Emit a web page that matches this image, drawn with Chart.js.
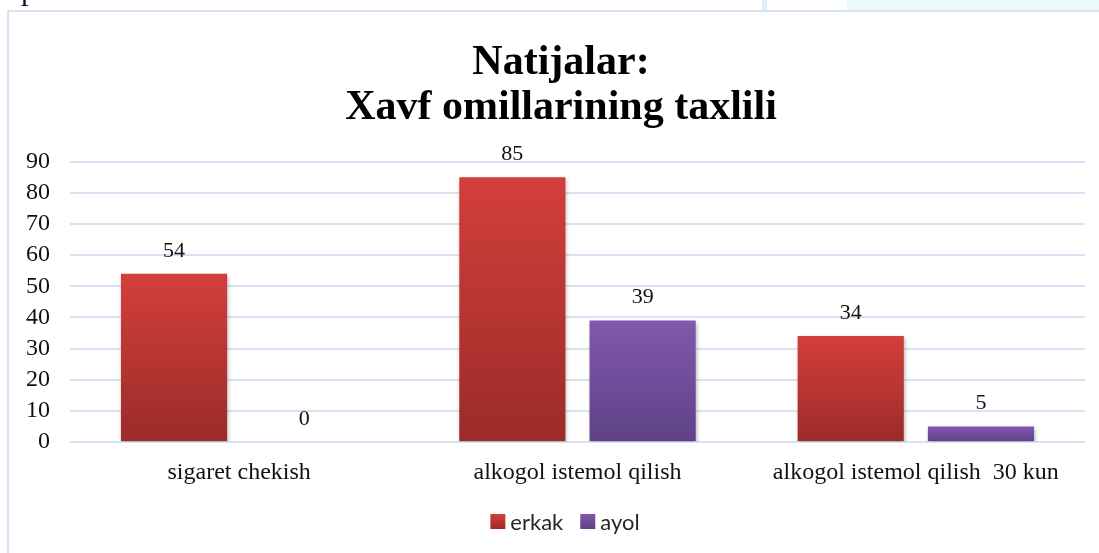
<!DOCTYPE html>
<html>
<head>
<meta charset="utf-8">
<script src="https://cdn.jsdelivr.net/npm/chart.js@4.4.1/dist/chart.umd.min.js"></script>
<style>
  html,body{margin:0;padding:0;background:#fff;}
  #wrap{position:relative;width:1099px;height:553px;overflow:hidden;background:#fff;}
  #c{position:absolute;left:0;top:0;}
  .deco{position:absolute;}
  #ptxt{position:absolute;left:21px;top:-27px;font:30px "Liberation Serif",serif;color:#111;}
</style>
</head>
<body>
<div id="wrap">
  <div class="deco" style="left:847px;top:0;width:252px;height:10px;background:#ebfbfd;"></div>
  <div class="deco" style="left:762px;top:0;width:5px;height:10px;background:#dfeefb;"></div>
  <div id="ptxt">p</div>
  <div class="deco" style="left:8px;top:10px;width:1091px;height:2px;background:#d5e2f4;"></div>
  <div class="deco" style="left:7px;top:10px;width:2px;height:543px;background:#d5e2f4;"></div>
  <canvas id="c" width="1099" height="553"></canvas>
</div>
<script>
const titleLines = ["Natijalar:", "Xavf omillarining taxlili"];
const categories = ["sigaret chekish", "alkogol istemol qilish", "alkogol istemol qilish  30 kun"];
const seriesNames = ["erkak", "ayol"];
const erkakValues = [54, 85, 34];
const ayolValues = [0, 39, 5];
const yTicks = [0, 10, 20, 30, 40, 50, 60, 70, 80, 90];

const palettes = [
  {top: "#d33f3b", bottom: "#9b2b29", solid: "#c0392f"},
  {top: "#8158ad", bottom: "#5e4286", solid: "#7350a0"}
];

function barGradient(pal) {
  return function(ctx) {
    const chart = ctx.chart;
    if (!chart.chartArea || ctx.type !== "data") return pal.solid;
    const ys = chart.scales.y;
    const y0 = ys.getPixelForValue(ctx.raw);
    const y1 = ys.getPixelForValue(0);
    if (y1 - y0 < 1) return pal.solid;
    const g = chart.ctx.createLinearGradient(0, y0, 0, y1);
    g.addColorStop(0, pal.top);
    g.addColorStop(1, pal.bottom);
    return g;
  };
}

const shadowPlugin = {
  id: "shadow",
  beforeDatasetsDraw(chart) {
    const c = chart.ctx;
    c.save();
    c.shadowColor = "rgba(0,0,0,0.28)";
    c.shadowBlur = 4;
    c.shadowOffsetX = 1;
    c.shadowOffsetY = 2;
  },
  afterDatasetsDraw(chart) {
    chart.ctx.restore();
  }
};

const labelPlugin = {
  id: "valueLabels",
  afterDatasetsDraw(chart) {
    const c = chart.ctx;
    c.save();
    c.font = '22px "Liberation Serif", serif';
    c.fillStyle = "#111";
    c.textAlign = "center";
    c.textBaseline = "middle";
    chart.data.datasets.forEach((ds, i) => {
      const meta = chart.getDatasetMeta(i);
      meta.data.forEach((bar, j) => {
        c.fillText(String(ds.data[j]), bar.x, bar.y - 23);
      });
    });
    c.restore();
  }
};

// Title and legend: space reserved by the library's plugins, text drawn centred on the slide frame.
const frameCenterX = 563;
const titleDraw = {
  id: "titleDraw",
  afterDraw(chart) {
    const c = chart.ctx;
    const tb = chart.titleBlock;
    if (tb) {
      const size = 42, lh = size * 1.08;
      c.save();
      c.font = 'bold ' + size + 'px "Liberation Serif", serif';
      c.fillStyle = "#000";
      c.textAlign = "center";
      c.textBaseline = "middle";
      const top = tb.top + tb.options.padding.top;
      titleLines.forEach((t, i) => c.fillText(t, frameCenterX - 2, top + lh * (i + 0.5)));
      c.restore();
    }
    const lg = chart.legend;
    if (lg) {
      c.save();
      c.font = '22px Lato, "Liberation Sans", sans-serif';
      c.textBaseline = "middle";
      c.textAlign = "left";
      const box = 15, gap = 5, itemGap = 17;
      const widths = chart.data.datasets.map(ds => c.measureText(ds.label).width);
      const total = widths.reduce((a, w) => a + box + gap + w, 0) + itemGap * (widths.length - 1);
      let x = frameCenterX + 2 - total / 2;
      const cy = (lg.top + lg.bottom) / 2;
      chart.data.datasets.forEach((ds, i) => {
        const g = c.createLinearGradient(0, cy - box / 2, 0, cy + box / 2);
        g.addColorStop(0, palettes[i].top);
        g.addColorStop(1, palettes[i].bottom);
        c.fillStyle = g;
        c.fillRect(x, cy - box / 2, box, box);
        x += box + gap;
        c.fillStyle = "#262626";
        c.fillText(ds.label, x, cy + 1);
        x += widths[i] + itemGap;
      });
      c.restore();
    }
  }
};

new Chart(document.getElementById("c"), {
  type: "bar",
  data: {
    labels: categories,
    datasets: [
      {label: seriesNames[0], data: erkakValues, backgroundColor: barGradient(palettes[0])},
      {label: seriesNames[1], data: ayolValues, backgroundColor: barGradient(palettes[1])}
    ]
  },
  options: {
    responsive: false,
    animation: false,
    devicePixelRatio: 1,
    categoryPercentage: 0.77,
    barPercentage: 0.815,
    layout: {padding: {left: 0, right: 14, top: 0, bottom: 9}},
    plugins: {
      title: {
        display: true,
        text: titleLines,
        color: "rgba(0,0,0,0)",
        font: {family: '"Liberation Serif", serif', size: 42, weight: "bold", lineHeight: 1.08},
        padding: {top: 40, bottom: 31}
      },
      legend: {
        position: "bottom",
        labels: {
          color: "rgba(0,0,0,0)",
          font: {family: 'Lato, "Liberation Sans", sans-serif', size: 21},
          boxWidth: 15,
          boxHeight: 15,
          padding: 14,
          generateLabels(chart) {
            return chart.data.datasets.map((ds, i) => ({
              text: ds.label,
              fillStyle: "rgba(0,0,0,0)",
              strokeStyle: "rgba(0,0,0,0)",
              fontColor: "rgba(0,0,0,0)",
              lineWidth: 0,
              datasetIndex: i,
              hidden: false
            }));
          }
        }
      },
      tooltip: {enabled: false}
    },
    scales: {
      x: {
        afterFit(scale) { scale.height = 57; },
        grid: {display: false, drawTicks: false},
        border: {display: false},
        ticks: {
          color: "#111",
          font: {family: '"Liberation Serif", serif', size: 24},
          padding: 16,
          maxRotation: 0,
          autoSkip: false
        }
      },
      y: {
        min: 0,
        max: 90,
        afterBuildTicks(scale) { scale.ticks = yTicks.map(v => ({value: v})); },
        afterFit(scale) { scale.width = 70; },
        grid: {color: "#d6e3f4", lineWidth: 2, drawTicks: false},
        border: {display: false},
        ticks: {
          color: "#111",
          font: {family: '"Liberation Serif", serif', size: 24},
          padding: 20,
          autoSkip: false
        }
      }
    }
  },
  plugins: [shadowPlugin, labelPlugin, titleDraw]
});
</script>
</body>
</html>
